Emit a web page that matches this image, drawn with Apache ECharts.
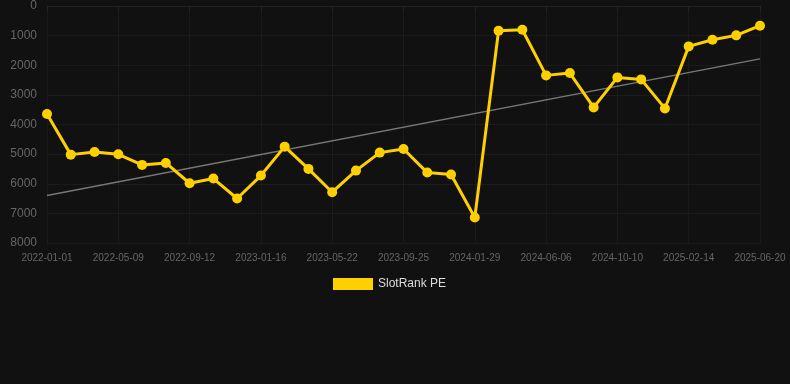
<!DOCTYPE html>
<html>
<head>
<meta charset="utf-8">
<script src="https://cdn.jsdelivr.net/npm/echarts@6/dist/echarts.min.js"></script>
<style>
html,body{margin:0;padding:0;background:#111111;}
#chart{width:790px;height:384px;}
</style>
</head>
<body>
<div id="chart"></div>
<script>
var categories = [
  '2022-01-01','2022-02-12','2022-03-26','2022-05-09','2022-06-20','2022-08-01',
  '2022-09-12','2022-10-24','2022-12-05','2023-01-16','2023-02-27','2023-04-10',
  '2023-05-22','2023-07-03','2023-08-14','2023-09-25','2023-11-06','2023-12-18',
  '2024-01-29','2024-03-12','2024-04-24','2024-06-06','2024-07-18','2024-08-29',
  '2024-10-10','2024-11-21','2025-01-02','2025-02-14','2025-03-28','2025-05-09',
  '2025-06-20'
];
var rankValues = [
  3646, 5017, 4926, 5006, 5364, 5297, 5983, 5825, 6498, 5724, 4747, 5498,
  6286, 5556, 4949, 4825, 5623, 5690, 7138, 834, 800, 2342, 2264, 3423,
  2410, 2477, 3457, 1363, 1137, 991, 665
];
var trendStart = 6397;
var trendEnd = 1785;
var yTicks = { min: 0, max: 8000, interval: 1000 };

var trendData = categories.map(function (c, i) {
  if (i === 0) return trendStart;
  if (i === categories.length - 1) return trendEnd;
  return null;
});

var chart = echarts.init(document.getElementById('chart'));
chart.setOption({
  backgroundColor: '#111111',
  animation: false,
  grid: { left: 47, right: 30, top: 6, bottom: 141, containLabel: false },
  legend: {
    data: ['SlotRank PE'],
    top: 273,
    left: 328,
    itemWidth: 40,
    itemHeight: 12,
    icon: 'rect',
    textStyle: { color: '#dddddd', fontSize: 12, fontFamily: 'Liberation Sans, Arial, sans-serif' }
  },
  xAxis: {
    type: 'category',
    data: categories,
    boundaryGap: false,
    axisLine: { show: true, lineStyle: { color: '#242424' } },
    axisTick: { show: true, interval: 2, length: 5, lineStyle: { color: '#242424' } },
    axisLabel: { interval: 2, color: '#666666', fontSize: 10, margin: 10, fontFamily: 'Liberation Sans, Arial, sans-serif' },
    splitLine: { show: true, interval: 2, lineStyle: { color: '#1b1b1b', width: 1 } }
  },
  yAxis: {
    type: 'value',
    inverse: true,
    min: yTicks.min,
    max: yTicks.max,
    interval: yTicks.interval,
    axisLine: { show: false },
    axisTick: { show: false },
    axisLabel: {
      color: '#666666', fontSize: 12, margin: 10, fontFamily: 'Liberation Sans, Arial, sans-serif',
      formatter: function (v) { return String(v); }
    },
    splitLine: { show: true, lineStyle: { color: '#1b1b1b', width: 1 } }
  },
  series: [
    {
      name: 'Trend',
      type: 'line',
      data: trendData,
      connectNulls: true,
      showSymbol: false,
      symbol: 'none',
      lineStyle: { color: '#777777', width: 1.5 },
      z: 1,
      silent: true
    },
    {
      name: 'SlotRank PE',
      type: 'line',
      data: rankValues,
      symbol: 'circle',
      symbolSize: 10,
      itemStyle: { color: '#FFD000' },
      lineStyle: { color: '#FFD000', width: 3 },
      z: 2
    }
  ]
});
</script>
</body>
</html>
